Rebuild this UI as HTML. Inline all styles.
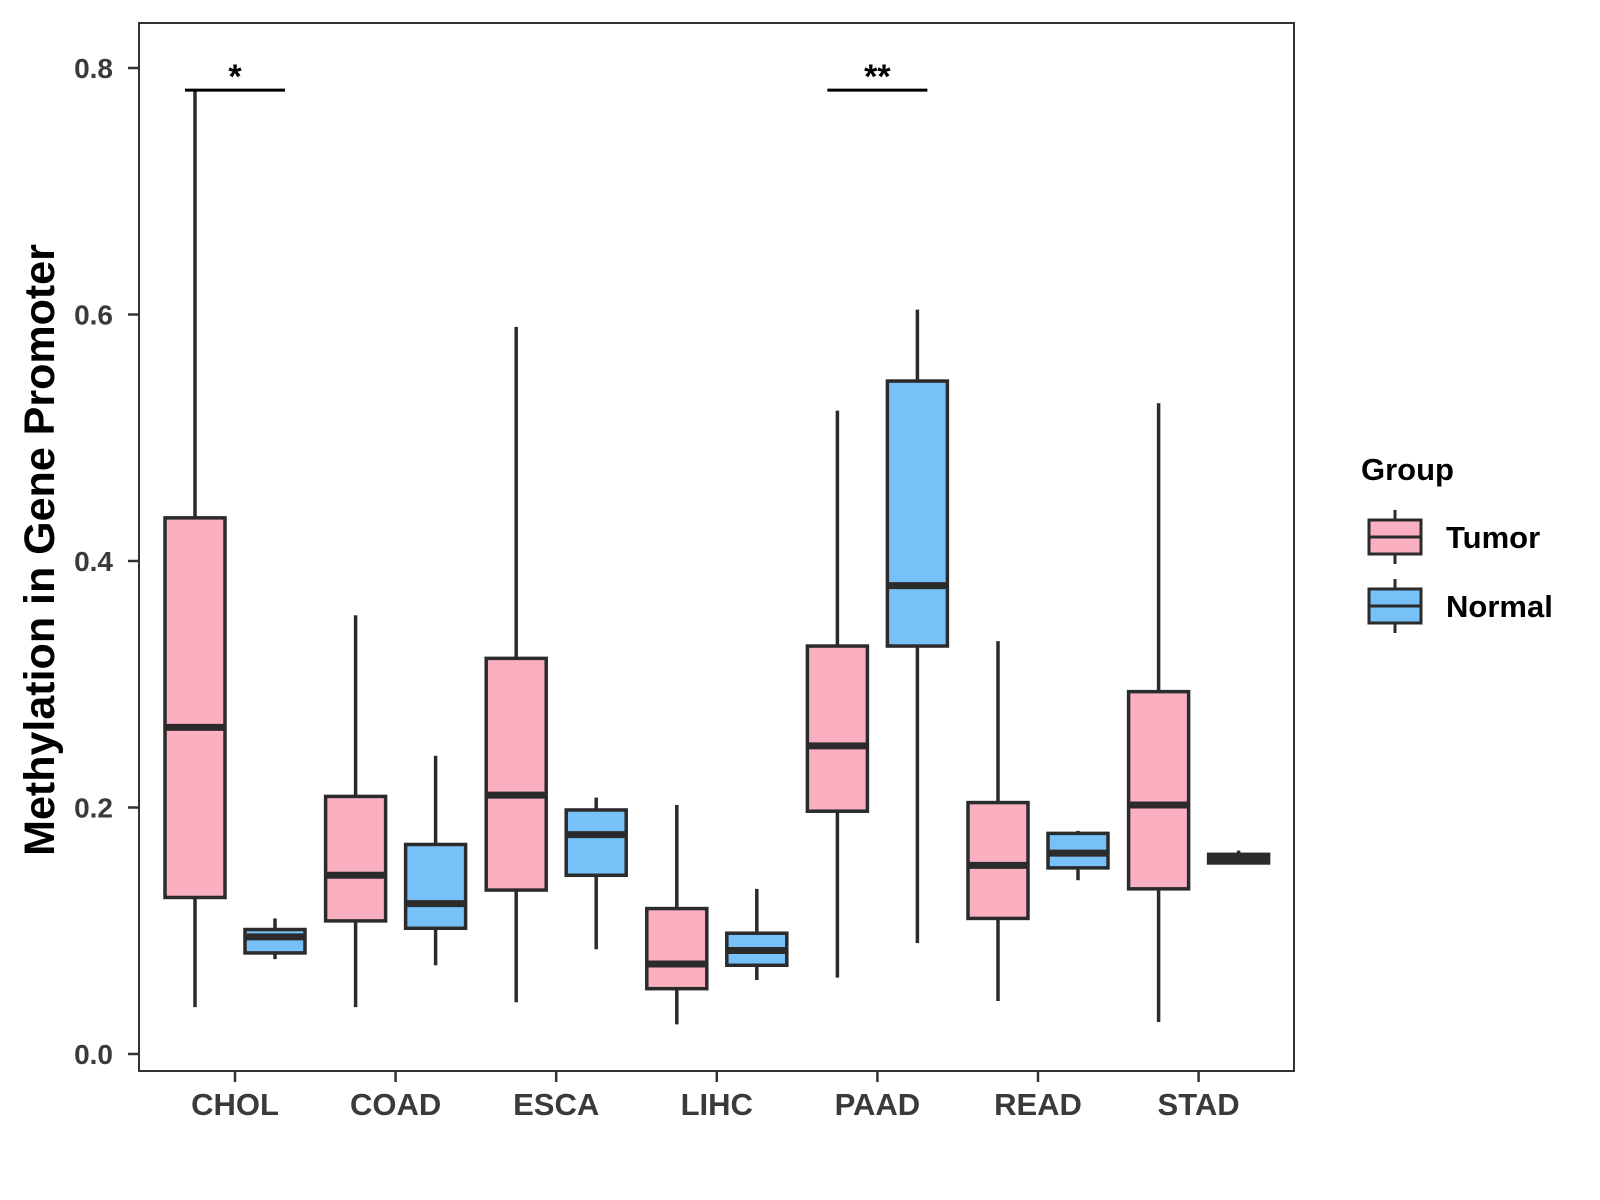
<!DOCTYPE html>
<html><head><meta charset="utf-8"><style>
body{margin:0;background:#fff;}
svg{display:block;font-family:"Liberation Sans",Arial,sans-serif;}
</style></head><body>
<svg id="chart" width="1600" height="1200" viewBox="0 0 1600 1200"></svg>
<script>
const categories=["CHOL","COAD","ESCA","LIHC","PAAD","READ","STAD"];
const tumorMin=[0.038,0.038,0.042,0.024,0.062,0.043,0.026];
const tumorQ1=[0.127,0.108,0.133,0.053,0.197,0.110,0.134];
const tumorMed=[0.265,0.145,0.210,0.073,0.250,0.153,0.202];
const tumorQ3=[0.435,0.209,0.321,0.118,0.331,0.204,0.294];
const tumorMax=[0.782,0.356,0.590,0.202,0.522,0.335,0.528];
const normalMin=[0.077,0.072,0.085,0.060,0.090,0.141,0.154];
const normalQ1=[0.082,0.102,0.145,0.072,0.331,0.151,0.155];
const normalMed=[0.095,0.122,0.178,0.084,0.380,0.163,0.159];
const normalQ3=[0.101,0.170,0.198,0.098,0.546,0.179,0.162];
const normalMax=[0.110,0.242,0.208,0.134,0.604,0.181,0.165];
const yTicks=[0.0,0.2,0.4,0.6,0.8];
const sigCats=["CHOL","PAAD"];
const sigLabels=["*","**"];
const sigLevel=0.782;

const NS="http://www.w3.org/2000/svg";
const svg=document.getElementById('chart');
const P={l:139,r:1294,t:23,b:1071};
const y=v=>1054-v*1232.5;
const x=i=>235+i*160.6;
function el(tag,attrs,parent){const e=document.createElementNS(NS,tag);for(const k in attrs)e.setAttribute(k,attrs[k]);(parent||svg).appendChild(e);return e;}

const frame=el('rect',{x:P.l,y:P.t,width:P.r-P.l,height:P.b-P.t,fill:'none',stroke:'#333',"stroke-width":2});



yTicks.forEach(t=>{
  const g=el('g',{});
  
  
  el('line',{x1:P.l-11,x2:P.l,y1:y(t),y2:y(t),stroke:'#333','stroke-width':2.5},g);
  const tx=el('text',{x:P.l-26,y:y(t)+10,'text-anchor':'end','font-size':28,'font-weight':'bold',fill:'#3a3a3a'},g);
  tx.textContent=t.toFixed(1);
});
categories.forEach((c,i)=>{
  const g=el('g',{});
  
  
  el('line',{x1:x(i),x2:x(i),y1:P.b,y2:P.b+11,stroke:'#333','stroke-width':2.5},g);
  const tx=el('text',{x:x(i),y:P.b+44,'text-anchor':'middle','font-size':31,'font-weight':'bold',fill:'#3a3a3a'},g);
  tx.textContent=c;
});
const yt=el('text',{x:0,y:0,transform:'translate(54,550) rotate(-90)','text-anchor':'middle','font-size':43,'font-weight':'bold',fill:'#000'});
yt.textContent='Methylation in Gene Promoter';



function box(cx,mn,q1,md,q3,mx,fill,name){
  const g=el('g',{});
  
  
  const hw=30;
  el('line',{x1:cx,x2:cx,y1:y(mx),y2:y(mn),stroke:'#2b2b2b','stroke-width':3.5},g);
  el('rect',{x:cx-hw,y:y(q3),width:2*hw,height:y(q1)-y(q3),fill:fill,stroke:'#2b2b2b','stroke-width':3.5},g);
  el('line',{x1:cx-hw,x2:cx+hw,y1:y(md),y2:y(md),stroke:'#2b2b2b','stroke-width':7},g);
}
categories.forEach((c,i)=>{
  box(x(i)-40,tumorMin[i],tumorQ1[i],tumorMed[i],tumorQ3[i],tumorMax[i],'#fbb0c2','box-tumor-'+c.toLowerCase());
  box(x(i)+40,normalMin[i],normalQ1[i],normalMed[i],normalQ3[i],normalMax[i],'#77c1f8','box-normal-'+c.toLowerCase());
});
sigCats.forEach((c,k)=>{
  const i=categories.indexOf(c);
  const g=el('g',{});
  
  
  el('line',{x1:x(i)-50,x2:x(i)+50,y1:y(sigLevel),y2:y(sigLevel),stroke:'#000','stroke-width':3},g);
  const t=el('text',{x:x(i),y:y(sigLevel)-2,'text-anchor':'middle','font-size':34,'font-weight':'bold',fill:'#000'},g);
  t.textContent=sigLabels[k];
});
const lg=el('g',{});


const lt=el('text',{x:1361,y:480,'font-size':31,'font-weight':'bold',fill:'#000'},lg);
lt.textContent='Group';
[['Tumor','#fbb0c2',537],['Normal','#77c1f8',606]].forEach(([n,f,cy])=>{
  const g=el('g',{},lg);
  
  
  el('line',{x1:1395,x2:1395,y1:cy-27,y2:cy+27,stroke:'#2b2b2b','stroke-width':3},g);
  el('rect',{x:1369,y:cy-17,width:52,height:34,fill:f,stroke:'#2b2b2b','stroke-width':3},g);
  el('line',{x1:1369,x2:1421,y1:cy,y2:cy,stroke:'#2b2b2b','stroke-width':3},g);
  const t=el('text',{x:1446,y:cy+11,'font-size':31,'font-weight':'bold',fill:'#000'},g);
  t.textContent=n;
});
</script>
</body></html>
